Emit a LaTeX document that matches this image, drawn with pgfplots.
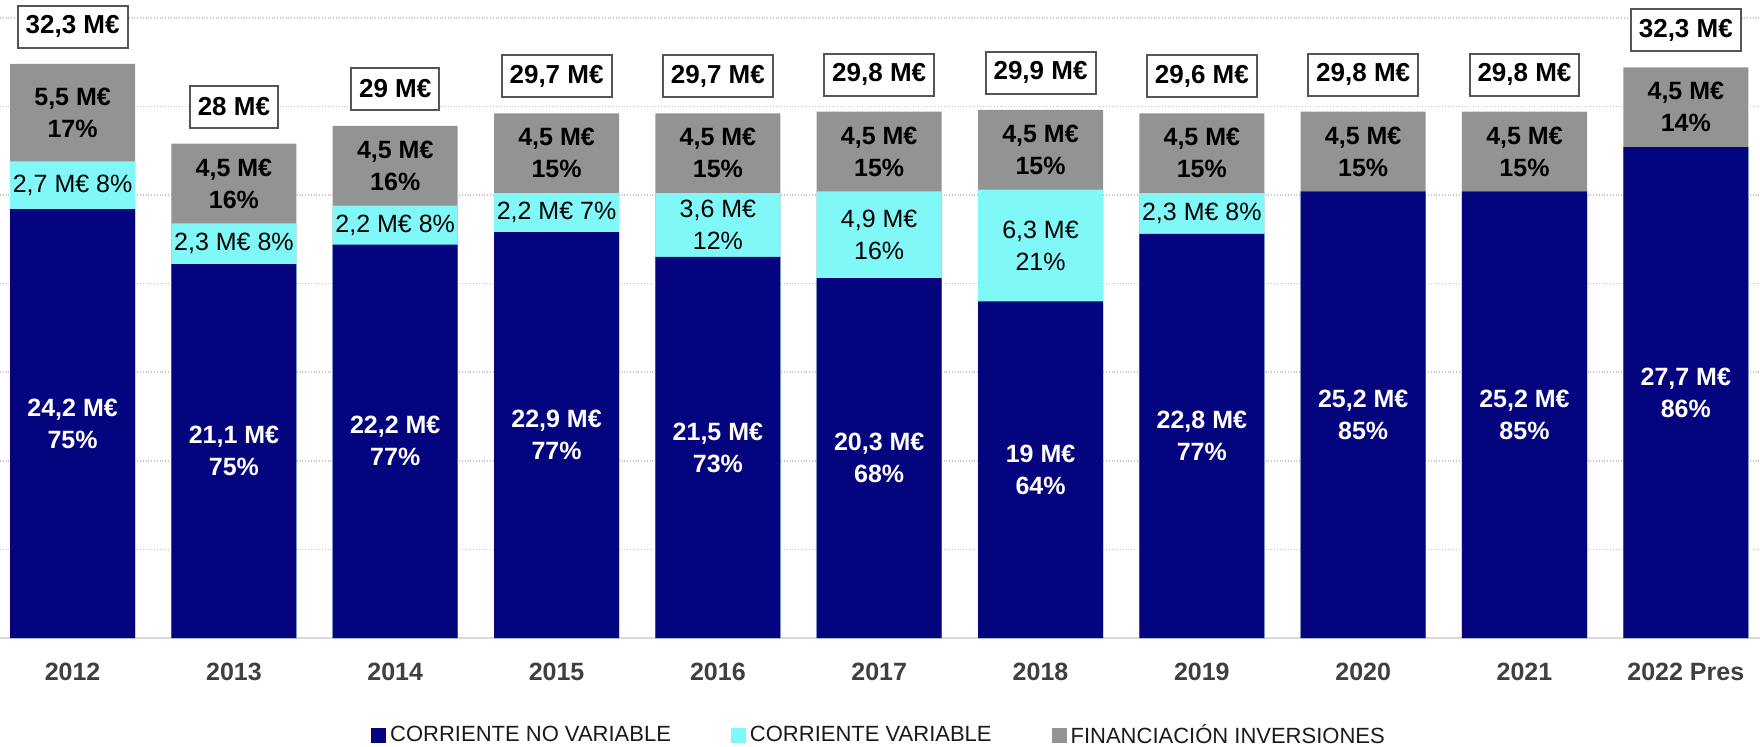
\documentclass[border=0pt]{standalone}
\usepackage{pgfplots}
\pgfplotsset{compat=1.18}
\usepackage{pgfplotstable}
\usepackage{fontspec}
\setmainfont{Liberation Sans}
\definecolor{navyc}{HTML}{04047F}
\definecolor{cyanc}{HTML}{80F8F8}
\definecolor{grayc}{HTML}{939393}
\definecolor{boxgray}{HTML}{555555}
\definecolor{ticklab}{HTML}{3F3F3F}
\definecolor{legtext}{HTML}{1A1A1A}
\newcommand\lab{\fontsize{12.5}{16}\selectfont}
\newcommand\pc[1]{\pgfmathprintnumber[fixed,precision=0,assume math mode=true]{#1}\%}

\pgfplotstableread{
x b c g bl bp cl cp gl gp tl
0 24.2 2.7 5.5 24,2 75 2,7 8 5,5 17 32,3
1 21.1 2.3 4.5 21,1 75 2,3 8 4,5 16 28
2 22.2 2.2 4.5 22,2 77 2,2 8 4,5 16 29
3 22.9 2.2 4.5 22,9 77 2,2 7 4,5 15 29,7
4 21.5 3.6 4.5 21,5 73 3,6 12 4,5 15 29,7
5 20.3 4.9 4.5 20,3 68 4,9 16 4,5 15 29,8
6 19.0 6.3 4.5 19 64 6,3 21 4,5 15 29,9
7 22.8 2.3 4.5 22,8 77 2,3 8 4,5 15 29,6
8 25.2 0 4.5 25,2 85 0 0 4,5 15 29,8
9 25.2 0 4.5 25,2 85 0 0 4,5 15 29,8
10 27.7 0 4.5 27,7 86 0 0 4,5 14 32,3
}\data

\begin{document}
\begin{tikzpicture}
\begin{axis}[
  scale only axis, width=880pt, height=319pt,
  xmin=-0.45, xmax=10.46, ymin=0, ymax=36,
  clip=false,
  axis line style={draw=none},
  major tick length=0pt,
  xtick={0,...,10},
  xticklabels={2012,2013,2014,2015,2016,2017,2018,2019,2020,2021,2022 Pres},
  xticklabel style={font=\fontsize{12.5}{15}\selectfont\bfseries, text=ticklab, anchor=center, yshift=-16.7pt},
  ytick={5,10,...,35}, yticklabels={},
  ymajorgrids, major grid style={densely dotted, gray!45, line width=0.8pt},
  extra y ticks={0}, extra y tick labels={},
  extra y tick style={ymajorgrids=true, major grid style={solid, gray!30, line width=1pt}},
  legend style={at={(0.5,0)}, anchor=center, yshift=-48.7pt, draw=none, fill=none,
    legend columns=3, /tikz/every even column/.append style={column sep=28pt},
    font=\fontsize{11}{13}\selectfont, text=legtext},
  legend image code/.code={\fill[#1] (0pt,-3.75pt) rectangle (7.5pt,3.75pt);},
]
% bars (drawn back to front as cumulative heights)
\addplot[ybar, bar width=62.5pt, bar shift=0pt, fill=grayc, draw=none, forget plot]
  table[x=x, y expr=\thisrow{b}+\thisrow{c}+\thisrow{g}]{\data};
\addplot[ybar, bar width=62.5pt, bar shift=0pt, fill=cyanc, draw=none, forget plot]
  table[x=x, y expr=\thisrow{b}+\thisrow{c}]{\data};
\addplot[ybar, bar width=62.5pt, bar shift=0pt, fill=navyc, draw=none, forget plot]
  table[x=x, y=b]{\data};

% blue labels
\addplot[draw=none, mark=none, forget plot, point meta=explicit symbolic,
  visualization depends on={\thisrow{bp} \as \lpct},
  nodes near coords={\pgfplotspointmeta{} M€\\\pc{\lpct}},
  nodes near coords align={center},
  every node near coord/.append style={align=center, text=white, font=\lab\bfseries}]
  table[x=x, y expr=\thisrow{b}/2, meta=bl]{\data};

% cyan labels single line
\addplot[draw=none, mark=none, forget plot, point meta=explicit symbolic,
  restrict expr to domain={\thisrow{c}}{0.1:2.99},
  visualization depends on={\thisrow{cp} \as \lpct},
  nodes near coords={\pgfplotspointmeta{} M€ \pc{\lpct}},
  nodes near coords align={center},
  every node near coord/.append style={align=center, text=black, font=\lab}]
  table[x=x, y expr=\thisrow{b}+\thisrow{c}/2, meta=cl]{\data};

% cyan labels two lines
\addplot[draw=none, mark=none, forget plot, point meta=explicit symbolic,
  restrict expr to domain={\thisrow{c}}{3:20},
  visualization depends on={\thisrow{cp} \as \lpct},
  nodes near coords={\pgfplotspointmeta{} M€\\\pc{\lpct}},
  nodes near coords align={center},
  every node near coord/.append style={align=center, text=black, font=\lab}]
  table[x=x, y expr=\thisrow{b}+\thisrow{c}/2, meta=cl]{\data};

% gray labels
\addplot[draw=none, mark=none, forget plot, point meta=explicit symbolic,
  visualization depends on={\thisrow{gp} \as \lpct},
  nodes near coords={\pgfplotspointmeta{} M€\\\pc{\lpct}},
  nodes near coords align={center},
  every node near coord/.append style={align=center, text=black, font=\lab\bfseries}]
  table[x=x, y expr=\thisrow{b}+\thisrow{c}+\thisrow{g}/2, meta=gl]{\data};

% total boxes
\addplot[draw=none, mark=none, forget plot, point meta=explicit symbolic,
  nodes near coords={\pgfplotspointmeta{} M€},
  nodes near coords align={south},
  every node near coord/.append style={anchor=south, yshift=7.5pt, draw=boxgray, fill=white,
    line width=1pt, inner xsep=4pt, minimum height=21pt, text=black,
    font=\fontsize{13}{15}\selectfont\bfseries}]
  table[x=x, y expr=\thisrow{b}+\thisrow{c}+\thisrow{g}, meta=tl]{\data};

\addlegendimage{fill=navyc, draw=none}
\addlegendentry{CORRIENTE NO VARIABLE}
\addlegendimage{fill=cyanc, draw=none}
\addlegendentry{CORRIENTE VARIABLE}
\addlegendimage{fill=grayc, draw=none}
\addlegendentry{FINANCIACIÓN INVERSIONES}
\end{axis}
\pgfresetboundingbox
\path[use as bounding box] ([yshift=-54pt]current axis.south west) rectangle (current axis.north east);
\end{tikzpicture}
\end{document}
